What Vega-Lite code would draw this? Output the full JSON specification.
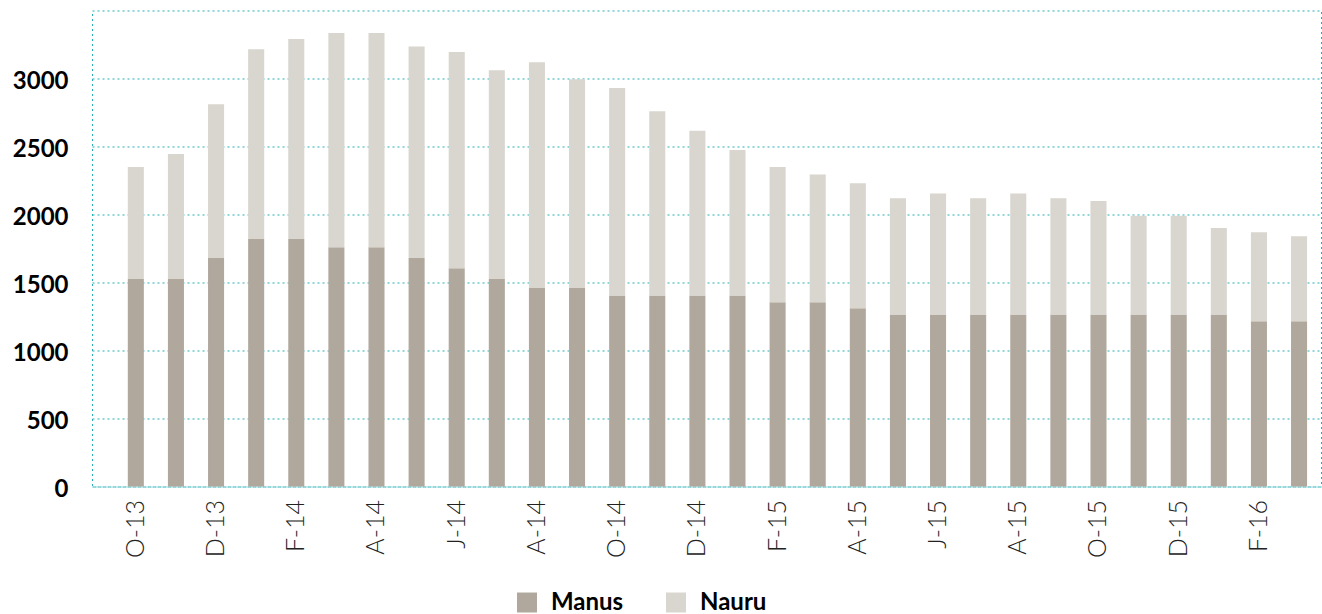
{
  "$schema": "https://vega.github.io/schema/vega-lite/v6.json",
  "autosize": {"type": "none"},
  "padding": {"left": 92, "top": 10.5, "right": 1, "bottom": 127.5},
  "width": 1229,
  "height": 476,
  "background": "white",
  "config": {
    "font": "Lato",
    "view": {"stroke": "#26aeb6", "strokeDash": [2, 3], "strokeWidth": 1}
  },
  "data": {
    "values": [
      {"month": "2013-10", "series": "Manus", "value": 1525}, {"month": "2013-10", "series": "Nauru", "value": 825},
      {"month": "2013-11", "series": "Manus", "value": 1525}, {"month": "2013-11", "series": "Nauru", "value": 920},
      {"month": "2013-12", "series": "Manus", "value": 1680}, {"month": "2013-12", "series": "Nauru", "value": 1130},
      {"month": "2014-01", "series": "Manus", "value": 1820}, {"month": "2014-01", "series": "Nauru", "value": 1395},
      {"month": "2014-02", "series": "Manus", "value": 1820}, {"month": "2014-02", "series": "Nauru", "value": 1470},
      {"month": "2014-03", "series": "Manus", "value": 1760}, {"month": "2014-03", "series": "Nauru", "value": 1575},
      {"month": "2014-04", "series": "Manus", "value": 1760}, {"month": "2014-04", "series": "Nauru", "value": 1575},
      {"month": "2014-05", "series": "Manus", "value": 1680}, {"month": "2014-05", "series": "Nauru", "value": 1555},
      {"month": "2014-06", "series": "Manus", "value": 1605}, {"month": "2014-06", "series": "Nauru", "value": 1590},
      {"month": "2014-07", "series": "Manus", "value": 1525}, {"month": "2014-07", "series": "Nauru", "value": 1535},
      {"month": "2014-08", "series": "Manus", "value": 1460}, {"month": "2014-08", "series": "Nauru", "value": 1660},
      {"month": "2014-09", "series": "Manus", "value": 1460}, {"month": "2014-09", "series": "Nauru", "value": 1535},
      {"month": "2014-10", "series": "Manus", "value": 1405}, {"month": "2014-10", "series": "Nauru", "value": 1525},
      {"month": "2014-11", "series": "Manus", "value": 1405}, {"month": "2014-11", "series": "Nauru", "value": 1355},
      {"month": "2014-12", "series": "Manus", "value": 1405}, {"month": "2014-12", "series": "Nauru", "value": 1210},
      {"month": "2015-01", "series": "Manus", "value": 1405}, {"month": "2015-01", "series": "Nauru", "value": 1070},
      {"month": "2015-02", "series": "Manus", "value": 1355}, {"month": "2015-02", "series": "Nauru", "value": 995},
      {"month": "2015-03", "series": "Manus", "value": 1355}, {"month": "2015-03", "series": "Nauru", "value": 940},
      {"month": "2015-04", "series": "Manus", "value": 1310}, {"month": "2015-04", "series": "Nauru", "value": 920},
      {"month": "2015-05", "series": "Manus", "value": 1265}, {"month": "2015-05", "series": "Nauru", "value": 855},
      {"month": "2015-06", "series": "Manus", "value": 1265}, {"month": "2015-06", "series": "Nauru", "value": 890},
      {"month": "2015-07", "series": "Manus", "value": 1265}, {"month": "2015-07", "series": "Nauru", "value": 855},
      {"month": "2015-08", "series": "Manus", "value": 1265}, {"month": "2015-08", "series": "Nauru", "value": 890},
      {"month": "2015-09", "series": "Manus", "value": 1265}, {"month": "2015-09", "series": "Nauru", "value": 855},
      {"month": "2015-10", "series": "Manus", "value": 1265}, {"month": "2015-10", "series": "Nauru", "value": 835},
      {"month": "2015-11", "series": "Manus", "value": 1265}, {"month": "2015-11", "series": "Nauru", "value": 725},
      {"month": "2015-12", "series": "Manus", "value": 1265}, {"month": "2015-12", "series": "Nauru", "value": 725},
      {"month": "2016-01", "series": "Manus", "value": 1265}, {"month": "2016-01", "series": "Nauru", "value": 635},
      {"month": "2016-02", "series": "Manus", "value": 1215}, {"month": "2016-02", "series": "Nauru", "value": 655},
      {"month": "2016-03", "series": "Manus", "value": 1215}, {"month": "2016-03", "series": "Nauru", "value": 625}
    ]
  },
  "mark": {"type": "bar"},
  "encoding": {
    "x": {
      "field": "month",
      "type": "ordinal",
      "sort": null,
      "scale": {"paddingInner": 0.6, "paddingOuter": 0.62, "align": 0.72},
      "axis": {
        "title": null,
        "domain": false,
        "ticks": false,
        "grid": false,
        "values": ["2013-10", "2013-12", "2014-02", "2014-04", "2014-06", "2014-08", "2014-10", "2014-12", "2015-02", "2015-04", "2015-06", "2015-08", "2015-10", "2015-12", "2016-02"],
        "labelExpr": "substring('JFMAMJJASOND', toNumber(substring(datum.value,5,7))-1, toNumber(substring(datum.value,5,7))) + '-' + substring(datum.value,2,4)",
        "labelAngle": -90,
        "labelFontSize": 25,
        "labelFontWeight": 300,
        "labelColor": "#222222",
        "labelPadding": 13,
        "labelOverlap": false
      }
    },
    "y": {
      "field": "value",
      "type": "quantitative",
      "aggregate": "sum",
      "stack": "zero",
      "scale": {"domain": [0, 3500], "nice": false},
      "axis": {
        "title": null,
        "domain": false,
        "ticks": false,
        "values": [0, 500, 1000, 1500, 2000, 2500, 3000],
        "format": "d",
        "grid": true,
        "gridColor": "#26aeb6",
        "gridDash": [2, 3],
        "gridWidth": 1,
        "gridOpacity": 1,
        "labelFontSize": 24,
        "labelFontWeight": "bold",
        "labelColor": "#000000",
        "labelPadding": 24,
        "labelOffset": 3
      }
    },
    "color": {
      "field": "series",
      "type": "nominal",
      "scale": {"domain": ["Manus", "Nauru"], "range": ["#b0a89d", "#d9d6cf"]},
      "legend": {
        "title": null,
        "orient": "none",
        "direction": "horizontal",
        "legendX": 423,
        "legendY": 580,
        "symbolType": "square",
        "symbolSize": 400,
        "symbolStrokeWidth": 0,
        "symbolOpacity": 1,
        "labelFontSize": 24,
        "labelFontWeight": "bold",
        "labelColor": "#000000",
        "labelOffset": 12,
        "columnPadding": 40
      }
    },
    "order": {"field": "series", "sort": "ascending"}
  }
}
